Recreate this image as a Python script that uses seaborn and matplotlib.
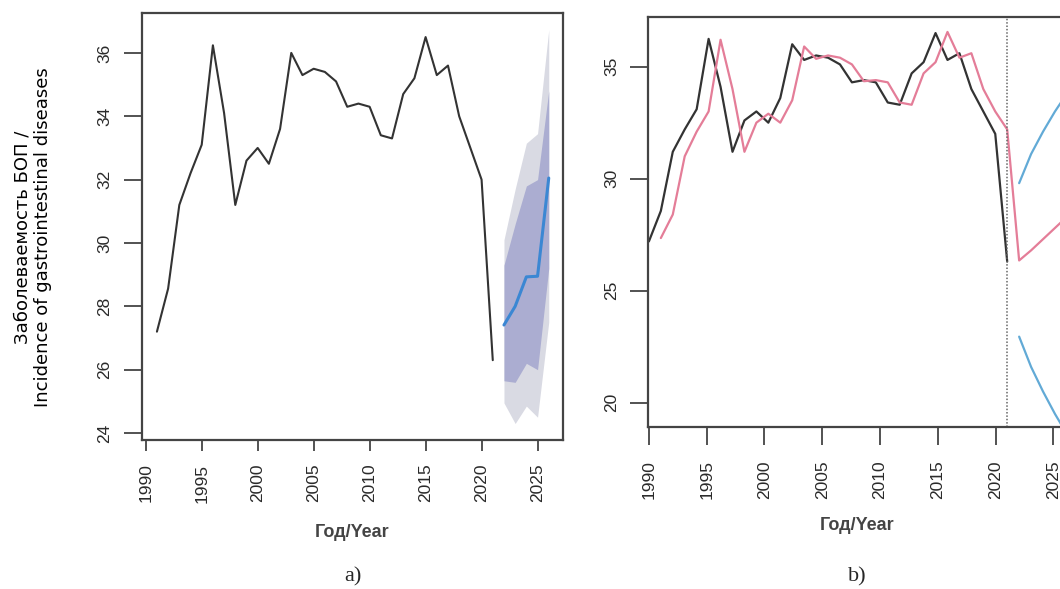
import numpy as np
import pandas as pd
import matplotlib
matplotlib.use("Agg")
import matplotlib.pyplot as plt
import seaborn as sns

# ---- panel a: observed series and forecast with intervals ----
years_obs = list(range(1991, 2022))
incidence = [27.2, 28.56, 31.2, 32.2, 33.1, 36.24, 34.1, 31.2, 32.6, 33.0,
             32.5, 33.6, 36.0, 35.3, 35.5, 35.4, 35.1, 34.3, 34.4, 34.3,
             33.4, 33.3, 34.7, 35.2, 36.5, 35.3, 35.6, 34.0, 33.0, 32.0, 26.3]

years_fc = [2022, 2023, 2024, 2025, 2026]
fc_mean = [27.41, 28.0, 28.93, 28.95, 32.05]
fc_lo80 = [25.65, 25.6, 26.2, 26.0, 29.2]
fc_hi80 = [29.3, 30.6, 31.8, 32.0, 34.8]
fc_lo95 = [24.95, 24.3, 24.85, 24.5, 27.5]
fc_hi95 = [30.1, 31.7, 33.15, 33.45, 36.73]

a_xticks = [1990, 1995, 2000, 2005, 2010, 2015, 2020, 2025]
a_yticks = [24, 26, 28, 30, 32, 34, 36]

# ---- panel b: observed, fitted, forecast, interval bounds ----
b_obs = incidence
b_fit = [27.35, 28.4, 31.0, 32.1, 33.0, 36.2, 34.0, 31.2, 32.5, 32.9,
         32.5, 33.5, 35.9, 35.35, 35.5, 35.4, 35.1, 34.35, 34.4, 34.3,
         33.4, 33.3, 34.7, 35.2, 36.55, 35.4, 35.6, 34.0, 33.0, 32.2]
b_fc = [26.35, 26.8, 27.3, 27.8, 28.3]
b_upper = [29.8, 31.1, 32.1, 33.0, 33.8]
b_lower = [22.95, 21.6, 20.5, 19.5, 18.6]
b_split = 2021

b_xticks = [1990, 1995, 2000, 2005, 2010, 2015, 2020, 2025]
b_yticks = [20, 25, 30, 35]

ylabel = "Заболеваемость БОП /\nIncidence of gastrointestinal diseases"
xlabel = "Год/Year"

sns.set_style("white")
plt.rcParams['font.family'] = ['Liberation Sans', 'DejaVu Sans']

tick_col = "#2a2a2a"
fig = plt.figure(figsize=(10.6, 5.89), dpi=100)

# ---------------- panel a ----------------
ax = fig.add_axes([141.7 / 1060, 149 / 589, 421.6 / 1060, 427 / 589])
df_fc = pd.DataFrame({"year": years_fc, "mean": fc_mean, "lo80": fc_lo80,
                      "hi80": fc_hi80, "lo95": fc_lo95, "hi95": fc_hi95})
ax.fill_between(df_fc["year"], df_fc["lo95"], df_fc["hi95"], color="#d9dae3", lw=0)
ax.fill_between(df_fc["year"], df_fc["lo80"], df_fc["hi80"], color="#abadd1", lw=0)
sns.lineplot(x=years_obs, y=incidence, ax=ax, color="#333333", linewidth=1.5)
sns.lineplot(data=df_fc, x="year", y="mean", ax=ax, color="#3b87d3", linewidth=2.2)
ax.set_xlim(1989.64, 2027.3)
ax.set_ylim(23.78, 37.26)
ax.set_xticks(a_xticks)
ax.set_yticks(a_yticks)
ax.tick_params(axis="x", direction="out", length=8, width=1.3, pad=9,
               labelsize=12.5, labelcolor=tick_col, labelrotation=90, color="#444444", bottom=True)
ax.tick_params(axis="y", direction="out", length=13, width=1.3, pad=8,
               labelsize=12.5, labelcolor=tick_col, color="#444444", left=True)
for lab in ax.get_yticklabels():
    lab.set_rotation(90)
    lab.set_va("center")
ax.set_xlabel(xlabel, fontsize=13, fontweight="bold", color="#444444", va="center")
ax.xaxis.set_label_coords(0.5, -0.2155)
ax.set_ylabel(ylabel, fontsize=13, color="black", va="center", ha="center",
              multialignment="center", linespacing=1.2, family=["DejaVu Sans"])
ax.yaxis.set_label_coords(-0.2578, 0.4754)
for s in ax.spines.values():
    s.set_color("#444444")
    s.set_linewidth(1.6)
fig.text(352.5 / 1060, 12 / 589, "a)", ha="center", va="center", fontsize=16,
         family=["Liberation Serif", "DejaVu Serif"])

# ---------------- panel b ----------------
bx = fig.add_axes([648.2 / 1060, 162.3 / 589, 417.6 / 1060, 410 / 589])
t_obs = np.linspace(1990, 2021, len(b_obs))
step = t_obs[1] - t_obs[0]
t_fc = b_split + step * np.arange(1, len(b_fc) + 1)
fit_line = pd.DataFrame({"t": np.concatenate([t_obs[1:], t_fc]),
                         "v": b_fit + b_fc})
sns.lineplot(x=t_obs, y=b_obs, ax=bx, color="#333333", linewidth=1.6)
sns.lineplot(data=fit_line, x="t", y="v", ax=bx, color="#e47d98", linewidth=1.6)
sns.lineplot(x=t_fc, y=b_upper, ax=bx, color="#62aad6", linewidth=1.6)
sns.lineplot(x=t_fc, y=b_lower, ax=bx, color="#62aad6", linewidth=1.6)
bx.axvline(b_split, color="#666666", linestyle=(0, (1, 1.2)), linewidth=1.1)
bx.set_xlim(1989.94, 2026.07)
bx.set_ylim(18.93, 37.23)
bx.set_xticks(b_xticks)
bx.set_yticks(b_yticks)
bx.tick_params(axis="x", direction="out", length=13, width=1.3, pad=11,
               labelsize=12.5, labelcolor=tick_col, labelrotation=90, color="#444444", bottom=True)
bx.tick_params(axis="y", direction="out", length=13, width=1.3, pad=8,
               labelsize=12.5, labelcolor=tick_col, color="#444444", left=True)
for lab in bx.get_yticklabels():
    lab.set_rotation(90)
    lab.set_va("center")
bx.set_xlabel(xlabel, fontsize=13, fontweight="bold", color="#444444", va="center")
bx.xaxis.set_label_coords(0.5, -0.242)
bx.set_ylabel("")
for s in bx.spines.values():
    s.set_color("#444444")
    s.set_linewidth(1.6)
fig.text(857 / 1060, 12 / 589, "b)", ha="center", va="center", fontsize=16,
         family=["Liberation Serif", "DejaVu Serif"])

fig.savefig("out.png", dpi=100)
